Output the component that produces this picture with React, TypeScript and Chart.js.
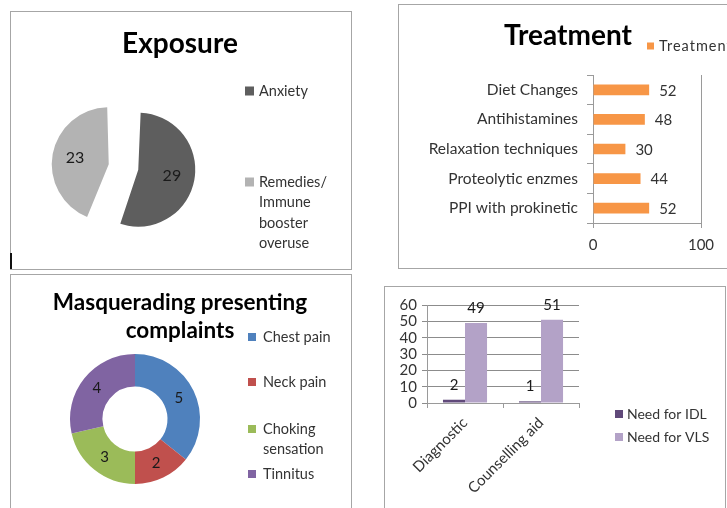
import React, { useEffect, useRef } from "react";
import { Chart, registerables } from "chart.js";

Chart.register(...registerables);

const W = 727;
const H = 508;
const FAMILY = "Lato, 'Open Sans', Arial, sans-serif";
const TEXT = "#333333";
const TITLE = "#000000";
const AXIS = "#9a9a9a";

// ---------- Panel 1: Exposure (pie) ----------
const exposureTitle = "Exposure";
const exposureLabels = ["Anxiety", "Remedies/ Immune booster overuse"];
const exposureLegendLines = [["Anxiety"], ["Remedies/", "Immune", "booster", "overuse"]];
const exposureValues = [29, 23];
const exposureColors = ["#5e5e5e", "#b3b3b3"];

// ---------- Panel 2: Treatment (horizontal bars) ----------
const treatmentTitle = "Treatment";
const treatmentSeries = "Treatment";
const treatmentCategories = [
  "Diet Changes",
  "Antihistamines",
  "Relaxation techniques",
  "Proteolytic enzmes",
  "PPI with prokinetic",
];
const treatmentValues = [52, 48, 30, 44, 52];
const treatmentColor = "#f79646";
const treatmentAxisMin = 0;
const treatmentAxisMax = 100;
const treatmentStep = 100;

// ---------- Panel 3: Masquerading presenting complaints (doughnut) ----------
const complaintTitleLines = ["Masquerading presenting", "complaints"];
const complaintLabels = ["Chest pain", "Neck pain", "Choking sensation", "Tinnitus"];
const complaintLegendLines = [["Chest pain"], ["Neck pain"], ["Choking", "sensation"], ["Tinnitus"]];
const complaintValues = [5, 2, 3, 4];
const complaintColors = ["#4f81bd", "#c0504d", "#9bbb59", "#8064a2"];

// ---------- Panel 4: Need for IDL / VLS (vertical bars) ----------
const needCategories = ["Diagnostic", "Counselling aid"];
const needSeries = ["Need for IDL", "Need for VLS"];
const needIDL = [2, 1];
const needVLS = [49, 51];
const needColors = ["#60497a", "#b3a2c7"];
const needAxisMin = 0;
const needAxisMax = 60;
const needStep = 10;

// ---------- helpers ----------
const font = (size: number, bold = false) => `${bold ? "bold " : ""}${size}px ${FAMILY}`;

type Txt = {
  text: string;
  x: number;
  y: number;
  size: number;
  bold?: boolean;
  color?: string;
  align?: CanvasTextAlign;
};
type Leg = {
  lines: string[];
  color: string;
  x: number;
  y: number;
  box: number;
  gap: number;
  lineHeight: number;
  size: number;
  spacing?: string;
};

function decor(
  id: string,
  texts: Txt[],
  legends: Leg[],
  labels?: (chart: any, ctx: CanvasRenderingContext2D) => void
) {
  return {
    id,
    afterDraw(chart: any) {
      const ctx: any = chart.ctx;
      ctx.save();
      for (const t of texts) {
        ctx.font = font(t.size, t.bold);
        ctx.fillStyle = t.color || TITLE;
        ctx.textAlign = t.align || "center";
        ctx.textBaseline = "alphabetic";
        ctx.fillText(t.text, t.x, t.y);
      }
      for (const l of legends) {
        ctx.fillStyle = l.color;
        ctx.fillRect(l.x, l.y - l.box / 2, l.box, l.box);
        ctx.font = font(l.size);
        ctx.fillStyle = TEXT;
        ctx.textAlign = "left";
        ctx.textBaseline = "middle";
        if ("letterSpacing" in ctx) ctx.letterSpacing = l.spacing || "0px";
        l.lines.forEach((s, i) => ctx.fillText(s, l.x + l.box + l.gap, l.y + i * l.lineHeight));
        if ("letterSpacing" in ctx) ctx.letterSpacing = "0px";
      }
      if (labels) labels(chart, ctx);
      ctx.restore();
    },
  };
}

function ChartCanvas({ make }: { make: (c: HTMLCanvasElement) => Chart }) {
  const ref = useRef<HTMLCanvasElement>(null);
  useEffect(() => {
    const ch = make(ref.current as HTMLCanvasElement);
    return () => ch.destroy();
  }, []);
  return (
    <canvas
      ref={ref}
      width={W}
      height={H}
      style={{ position: "absolute", left: 0, top: 0, width: W, height: H }}
    />
  );
}

const noPlugins = {
  legend: { display: false },
  title: { display: false },
  tooltip: { enabled: false },
};

// ---------- chart factories ----------
const PIE_RADIUS = 57;
const PIE_OFFSET = 60; // Chart.js translates exploded arcs by offset / 4

// Chart.js also enlarges exploded arcs by (offset/4) * (1 - sin(circumference));
// compensate so every slice keeps the same radius, as in the reference.
const equalRadiusPlugin = {
  id: "equalRadius",
  beforeDatasetsDraw(chart: any) {
    const meta = chart.getDatasetMeta(0);
    meta.data.forEach((arc: any) => {
      const shift = (arc.options.offset || 0) / 4;
      const fix = 1 - Math.sin(Math.min(Math.PI, arc.circumference || 0));
      arc.outerRadius = PIE_RADIUS - shift * fix;
    });
  },
};

function makeExposure(canvas: HTMLCanvasElement) {
  const legendYs = [91, 182];
  return new Chart(canvas, {
    type: "pie",
    data: {
      labels: exposureLabels,
      datasets: [
        {
          data: exposureValues,
          backgroundColor: exposureColors,
          borderWidth: 0,
          offset: PIE_OFFSET,
          radius: PIE_RADIUS,
        } as any,
      ],
    },
    options: {
      responsive: false,
      animation: false,
      events: [],
      radius: PIE_RADIUS,
      layout: { padding: { left: 50, right: W - 197, top: 90, bottom: H - 244 } },
      plugins: noPlugins as any,
    } as any,
    plugins: [
      equalRadiusPlugin,
      decor(
        "exposureDecor",
        [{ text: exposureTitle, x: 180, y: 53, size: 28, bold: true }],
        exposureLegendLines.map((lines, i) => ({
          lines,
          color: exposureColors[i],
          x: 245,
          y: legendYs[i],
          box: 9,
          gap: 5,
          lineHeight: 20.5,
          size: 14.5,
        })),
        (chart, ctx) => {
          const meta = chart.getDatasetMeta(0);
          ctx.font = font(16);
          ctx.fillStyle = "#1a1a1a";
          ctx.textAlign = "center";
          ctx.textBaseline = "middle";
          meta.data.forEach((arc: any, i: number) => {
            const p = arc.getProps(["x", "y", "startAngle", "endAngle"], true);
            const mid = (p.startAngle + p.endAngle) / 2;
            const shift = (arc.options.offset || 0) / 4;
            const d = shift + PIE_RADIUS * 0.6;
            ctx.fillText(String(exposureValues[i]), p.x + Math.cos(mid) * d, p.y + Math.sin(mid) * d);
          });
        }
      ),
    ],
  } as any);
}

function makeTreatment(canvas: HTMLCanvasElement) {
  return new Chart(canvas, {
    type: "bar",
    data: {
      labels: treatmentCategories,
      datasets: [
        {
          label: treatmentSeries,
          data: treatmentValues,
          backgroundColor: treatmentColor,
          categoryPercentage: 1,
          barPercentage: 0.36,
        },
      ],
    },
    options: {
      responsive: false,
      animation: false,
      events: [],
      indexAxis: "y",
      layout: { padding: { left: 0, right: W - 701, top: 75, bottom: 0 } },
      plugins: noPlugins as any,
      scales: {
        x: {
          min: treatmentAxisMin,
          max: treatmentAxisMax,
          ticks: { stepSize: treatmentStep, color: TEXT, font: { family: FAMILY, size: 15 }, padding: 8 },
          grid: { color: AXIS, tickLength: 5 },
          border: { color: AXIS },
          afterFit: (s: any) => {
            s.height = H - 223;
          },
        },
        y: {
          ticks: { color: TEXT, font: { family: FAMILY, size: 15.5 }, padding: 9, autoSkip: false },
          grid: { drawOnChartArea: false, tickLength: 6, color: AXIS },
          border: { color: AXIS },
          afterFit: (s: any) => {
            s.width = 593;
          },
        },
      } as any,
    },
    plugins: [
      decor(
        "treatmentDecor",
        [{ text: treatmentTitle, x: 568, y: 45, size: 28, bold: true }],
        [
          {
            lines: [treatmentSeries],
            color: treatmentColor,
            x: 647,
            y: 46,
            box: 7,
            gap: 5,
            lineHeight: 16,
            size: 14.5,
            spacing: "1px",
          },
        ],
        (chart, ctx) => {
          const meta = chart.getDatasetMeta(0);
          ctx.font = font(15);
          ctx.fillStyle = TEXT;
          ctx.textAlign = "left";
          ctx.textBaseline = "middle";
          meta.data.forEach((bar: any, i: number) => {
            ctx.fillText(String(treatmentValues[i]), bar.x + 10, bar.y + 1);
          });
        }
      ),
    ],
  } as any);
}

function makeComplaints(canvas: HTMLCanvasElement) {
  const legendYs = [337, 382, 429, 474];
  return new Chart(canvas, {
    type: "doughnut",
    data: {
      labels: complaintLabels,
      datasets: [
        {
          data: complaintValues,
          backgroundColor: complaintColors,
          borderWidth: 0,
        },
      ],
    },
    options: {
      responsive: false,
      animation: false,
      events: [],
      cutout: "50%",
      layout: { padding: { left: 70, right: W - 200, top: 354, bottom: H - 484 } },
      plugins: noPlugins as any,
    },
    plugins: [
      decor(
        "complaintDecor",
        [
          { text: complaintTitleLines[0], x: 180, y: 310, size: 22.5, bold: true },
          { text: complaintTitleLines[1], x: 180, y: 338, size: 22.5, bold: true },
        ],
        complaintLegendLines.map((lines, i) => ({
          lines,
          color: complaintColors[i],
          x: 248,
          y: legendYs[i],
          box: 8,
          gap: 7,
          lineHeight: 20,
          size: 14.5,
        })),
        (chart, ctx) => {
          const meta = chart.getDatasetMeta(0);
          ctx.font = font(15);
          ctx.fillStyle = "#1a1a1a";
          ctx.textAlign = "center";
          ctx.textBaseline = "middle";
          meta.data.forEach((arc: any, i: number) => {
            const p = arc.tooltipPosition(true);
            ctx.fillText(String(complaintValues[i]), p.x, p.y);
          });
        }
      ),
    ],
  } as any);
}

function makeNeed(canvas: HTMLCanvasElement) {
  const legendYs = [414, 437];
  const series = [needIDL, needVLS];
  return new Chart(canvas, {
    type: "bar",
    data: {
      labels: needCategories,
      datasets: series.map((d, i) => ({
        label: needSeries[i],
        data: d,
        backgroundColor: needColors[i],
        categoryPercentage: 0.58,
        barPercentage: 1,
      })),
    },
    options: {
      responsive: false,
      animation: false,
      events: [],
      layout: { padding: { left: 0, right: W - 579, top: 305, bottom: 0 } },
      plugins: noPlugins as any,
      scales: {
        x: {
          ticks: {
            color: TEXT,
            font: { family: FAMILY, size: 15 },
            maxRotation: 45,
            minRotation: 45,
            padding: 6,
            autoSkip: false,
          },
          grid: { drawOnChartArea: false, tickLength: 5, color: AXIS },
          border: { color: AXIS },
          afterFit: (s: any) => {
            s.height = H - 403;
          },
        },
        y: {
          min: needAxisMin,
          max: needAxisMax,
          ticks: {
            stepSize: needStep,
            color: TEXT,
            font: { family: FAMILY, size: 15 },
            padding: 5,
            autoSkip: false,
          },
          grid: { color: "#8c8c8c", tickLength: 5 },
          border: { color: AXIS },
          afterFit: (s: any) => {
            s.width = 427;
          },
        },
      } as any,
    },
    plugins: [
      decor(
        "needDecor",
        [],
        needSeries.map((name, i) => ({
          lines: [name],
          color: needColors[i],
          x: 615,
          y: legendYs[i],
          box: 8,
          gap: 4,
          lineHeight: 18,
          size: 14,
        })),
        (chart, ctx) => {
          ctx.font = font(15);
          ctx.fillStyle = "#1a1a1a";
          ctx.textAlign = "center";
          ctx.textBaseline = "middle";
          series.forEach((d, di) => {
            const meta = chart.getDatasetMeta(di);
            meta.data.forEach((bar: any, i: number) => {
              ctx.fillText(String(d[i]), bar.x, bar.y - 15);
            });
          });
        }
      ),
    ],
  } as any);
}

const box = (left: number, top: number, width: number, height: number): React.CSSProperties => ({
  position: "absolute",
  left,
  top,
  width,
  height,
  border: "1px solid #a6a6a6",
  boxSizing: "border-box",
});

export default function App() {
  return (
    <div
      style={{
        position: "absolute",
        left: 0,
        top: 0,
        width: W,
        height: H,
        overflow: "hidden",
        background: "#ffffff",
      }}
    >
      <div style={box(10, 11, 342, 259)} />
      <div style={box(398, 4, 340, 265)} />
      <div style={box(10, 274, 342, 250)} />
      <div style={box(384, 286, 342, 240)} />
      <div
        style={{ position: "absolute", left: 10, top: 253, width: 2, height: 16, background: "#111" }}
      />
      <ChartCanvas make={makeExposure} />
      <ChartCanvas make={makeTreatment} />
      <ChartCanvas make={makeComplaints} />
      <ChartCanvas make={makeNeed} />
    </div>
  );
}
